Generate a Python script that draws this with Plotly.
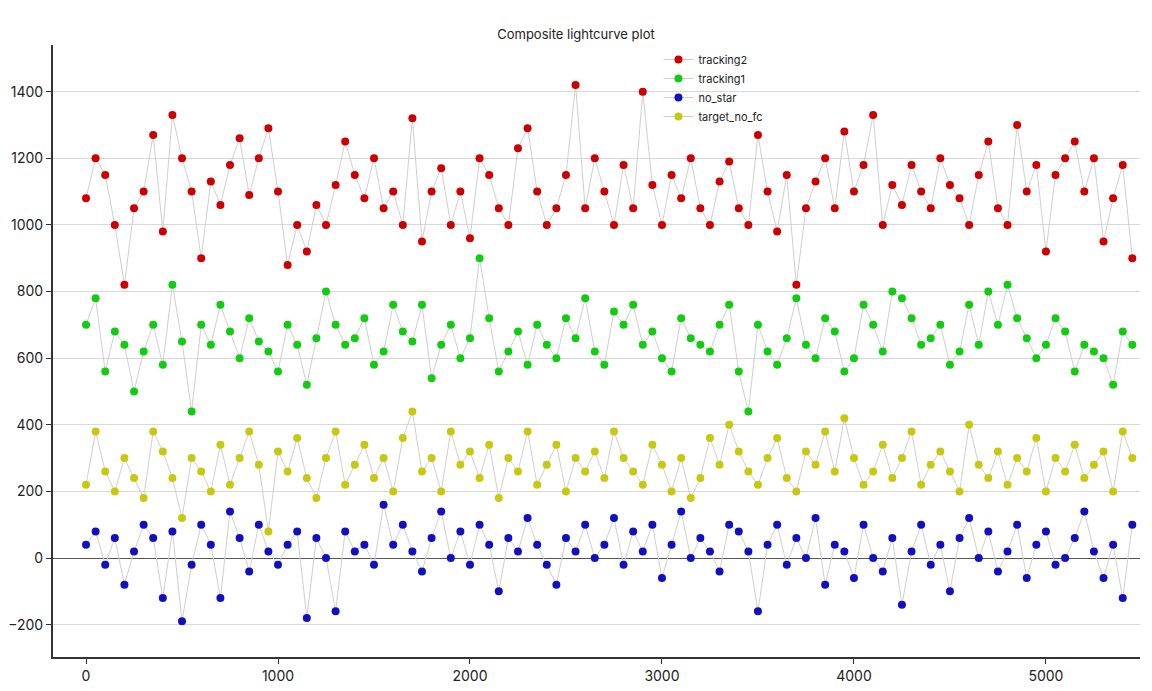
import plotly.graph_objects as go

# sample times (every 50 frames)
frames = list(range(0, 5500, 50))

tracking2 = [1080, 1200, 1150, 1000, 820, 1050, 1100, 1270, 980, 1330,
             1200, 1100, 900, 1130, 1060, 1180, 1260, 1090, 1200, 1290,
             1100, 880, 1000, 920, 1060, 1000, 1120, 1250, 1150, 1080,
             1200, 1050, 1100, 1000, 1320, 950, 1100, 1170, 1000, 1100,
             960, 1200, 1150, 1050, 1000, 1230, 1290, 1100, 1000, 1050,
             1150, 1420, 1050, 1200, 1100, 1000, 1180, 1050, 1400, 1120,
             1000, 1150, 1080, 1200, 1050, 1000, 1130, 1190, 1050, 1000,
             1270, 1100, 980, 1150, 820, 1050, 1130, 1200, 1050, 1280,
             1100, 1180, 1330, 1000, 1120, 1060, 1180, 1100, 1050, 1200,
             1120, 1080, 1000, 1150, 1250, 1050, 1000, 1300, 1100, 1180,
             920, 1150, 1200, 1250, 1100, 1200, 950, 1080, 1180, 900]

tracking1 = [700, 780, 560, 680, 640, 500, 620, 700, 580, 820,
             650, 440, 700, 640, 760, 680, 600, 720, 650, 620,
             560, 700, 640, 520, 660, 800, 700, 640, 660, 720,
             580, 620, 760, 680, 650, 760, 540, 640, 700, 600,
             660, 900, 720, 560, 620, 680, 580, 700, 640, 600,
             720, 660, 780, 620, 580, 740, 700, 760, 640, 680,
             600, 560, 720, 660, 640, 620, 700, 760, 560, 440,
             700, 620, 580, 660, 780, 640, 600, 720, 680, 560,
             600, 760, 700, 620, 800, 780, 720, 640, 660, 700,
             580, 620, 760, 640, 800, 700, 820, 720, 660, 600,
             640, 720, 680, 560, 640, 620, 600, 520, 680, 640]

no_star = [40, 80, -20, 60, -80, 20, 100, 60, -120, 80,
           -190, -20, 100, 40, -120, 140, 60, -40, 100, 20,
           -20, 40, 80, -180, 60, 0, -160, 80, 20, 40,
           -20, 160, 40, 100, 20, -40, 60, 140, 0, 80,
           -20, 100, 40, -100, 60, 20, 120, 40, -20, -80,
           60, 20, 100, 0, 40, 120, -20, 80, 20, 100,
           -60, 40, 140, 0, 60, 20, -40, 100, 80, 20,
           -160, 40, 100, -20, 60, 0, 120, -80, 40, 20,
           -60, 100, 0, -40, 60, -140, 20, 100, -20, 40,
           -100, 60, 120, 0, 80, -40, 20, 100, -60, 40,
           80, -20, 0, 60, 140, 20, -60, 40, -120, 100]

target_no_fc = [220, 380, 260, 200, 300, 240, 180, 380, 320, 240,
                120, 300, 260, 200, 340, 220, 300, 380, 280, 80,
                320, 260, 360, 240, 180, 300, 380, 220, 280, 340,
                240, 300, 200, 360, 440, 260, 300, 200, 380, 280,
                320, 240, 340, 180, 300, 260, 380, 220, 280, 340,
                200, 300, 260, 320, 240, 380, 300, 260, 220, 340,
                280, 200, 300, 180, 240, 360, 280, 400, 320, 260,
                220, 300, 360, 240, 200, 320, 280, 380, 260, 420,
                300, 220, 260, 340, 240, 300, 380, 220, 280, 320,
                260, 200, 400, 280, 240, 320, 220, 300, 260, 360,
                200, 300, 260, 340, 240, 280, 320, 200, 380, 300]

series = [
    ('tracking2', tracking2, '#cc0000'),
    ('tracking1', tracking1, '#11cc11'),
    ('no_star', no_star, '#1010c0'),
    ('target_no_fc', target_no_fc, '#c8c810'),
]

fig = go.Figure()
for name, vals, color in series:
    fig.add_trace(go.Scatter(
        name=name, x=frames, y=vals, mode='lines+markers',
        line=dict(color='#cfcfcf', width=1),
        marker=dict(color=color, size=8, line=dict(width=0)),
    ))

# page body adds an 8px offset, so the figure is sized to fit inside it
fig.update_layout(
    width=1136, height=675,
    paper_bgcolor='white', plot_bgcolor='white',
    font=dict(family='Inter, Noto Sans, sans-serif', size=14, color='#222'),
    title=dict(text='Composite lightcurve plot', x=0.5, xanchor='center',
               y=0.968, font=dict(size=13), automargin=False),
    margin=dict(l=45, r=4, t=37, b=26, autoexpand=False),
    legend=dict(x=0.557, y=1.0, xanchor='left', yanchor='top',
                bgcolor='rgba(255,255,255,0)', font=dict(size=11),
                tracegroupgap=8),
    xaxis=dict(range=[-172, 5490], showgrid=False, zeroline=False,
               showline=True, linecolor='#333', linewidth=2, automargin=False,
               ticks='outside', tickcolor='#333', dtick=1000),
    yaxis=dict(range=[-297, 1540], showgrid=True, gridcolor='#d8d8d8',
               zeroline=True, zerolinecolor='#555', zerolinewidth=1,
               showline=True, linecolor='#333', linewidth=2, automargin=False,
               ticks='outside', tickcolor='#333', dtick=200),
)

fig.write_html('out.html')
